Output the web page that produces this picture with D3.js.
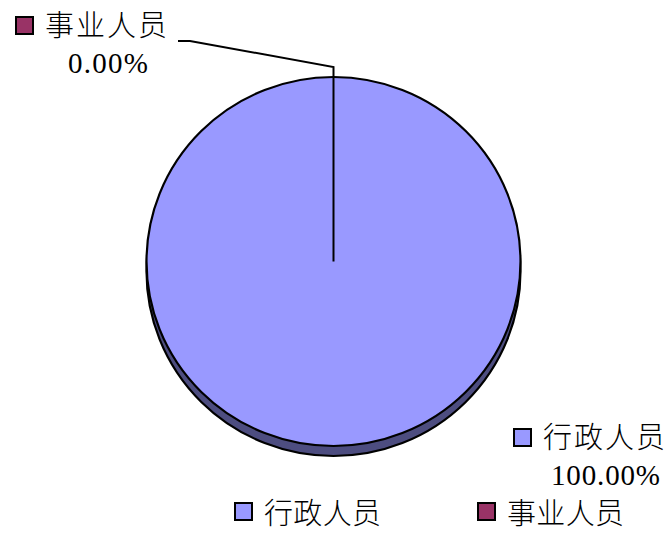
<!DOCTYPE html>
<html>
<head>
<meta charset="utf-8">
<script src="https://cdn.jsdelivr.net/npm/d3@7"></script>
<style>
  body { margin: 0; background: #fff; }
  text { font-family: "Noto Sans CJK SC", sans-serif; font-weight: 300; fill: #000; }
  .num { font-family: "Liberation Serif", serif; font-weight: 400; }
</style>
</head>
<body>
<svg id="chart" width="669" height="538"></svg>
<script>
document.addEventListener('DOMContentLoaded', function(){

    const categories = ["行政人员", "事业人员"];
    const values = [100, 0];
    const percentLabels = ["100.00%", "0.00%"];
    const colors = ["#9999FF", "#993366"];
    const sideColors = ["#4D4D80", "#4D1A33"];

    const cx = 333.5, cy = 261.5;
    const rx = 187, ry = 184.5;
    const depth = 10;

    const svg = d3.select("#chart");

    const pie = d3.pie().sort(null).value(d => d);
    const arcs = pie(values);
    const arc = d3.arc().innerRadius(0).outerRadius(rx);
    const colour = d3.scaleOrdinal().domain(d3.range(categories.length)).range(colors);
    const sideColour = d3.scaleOrdinal().domain(d3.range(categories.length)).range(sideColors);

    // SIDE (depth)
    svg.append("g")
       .attr("transform", `translate(${cx},${cy + depth}) scale(1,${ry / rx})`)
       .selectAll("path")
       .data(arcs.filter(d => d.value > 0))
       .join("path")
       .attr("d", arc)
       .attr("fill", d => sideColour(d.index))
       .attr("stroke", "#000")
       .attr("stroke-width", 2.2)
       .attr("vector-effect", "non-scaling-stroke");

    // TOP FACE
    svg.append("g")
       .attr("transform", `translate(${cx},${cy}) scale(1,${ry / rx})`)
       .selectAll("path")
       .data(arcs.filter(d => d.value > 0))
       .join("path")
       .attr("d", arc)
       .attr("fill", d => colour(d.index))
       .attr("stroke", "#000")
       .attr("stroke-width", 2.2)
       .attr("vector-effect", "non-scaling-stroke");

    // LEADER LINE for the empty slice
    const zero = arcs[1];
    const a = zero.startAngle;
    const tipR = ry + 10;
    const p0 = [cx, cy];
    const p1 = [cx + Math.sin(a) * tipR, cy - Math.cos(a) * tipR];
    const p2 = [190, 41];
    const p3 = [178, 41];
    svg.append("path")
       .attr("d", d3.line()([p0, p1, p2, p3]))
       .attr("fill", "none")
       .attr("stroke", "#000")
       .attr("stroke-width", 2);

    // DATA LABELS
    const labels = [
        { i: 0, mx: 514, my: 429, tx: 543, ty: 448, px: 551, py: 485, pw: 109 },
        { i: 1, mx: 16,  my: 17,  tx: 45,  ty: 36,  px: 68,  py: 73,  pw: 80 }
    ];
    const lab = svg.append("g").selectAll("g").data(labels).join("g");
    lab.append("rect")
       .attr("x", d => d.mx).attr("y", d => d.my)
       .attr("width", 17).attr("height", 17)
       .attr("fill", d => colour(d.i))
       .attr("stroke", "#000").attr("stroke-width", 2);
    lab.append("text")
       .attr("x", d => d.tx).attr("y", d => d.ty)
       .attr("font-size", 29)
       .attr("textLength", 122)
       .text(d => categories[d.i]);
    lab.append("text")
       .attr("class", "num")
       .attr("x", d => d.px).attr("y", d => d.py)
       .attr("font-size", 29)
       .attr("textLength", d => d.pw)
       .attr("lengthAdjust", "spacing")
       .text(d => percentLabels[d.i]);

    // LEGEND
    const legendX = d3.scalePoint().domain(categories).range([235, 478]);
    const leg = svg.append("g").selectAll("g").data(categories).join("g")
       .attr("transform", d => `translate(${legendX(d)},503)`);
    leg.append("rect")
       .attr("width", 17).attr("height", 17)
       .attr("fill", (d, i) => colour(i))
       .attr("stroke", "#000").attr("stroke-width", 2);
    leg.append("text")
       .attr("x", 29).attr("y", 21)
       .attr("font-size", 29)
       .attr("textLength", 117)
       .text(d => d);
});
</script>
</body>
</html>
